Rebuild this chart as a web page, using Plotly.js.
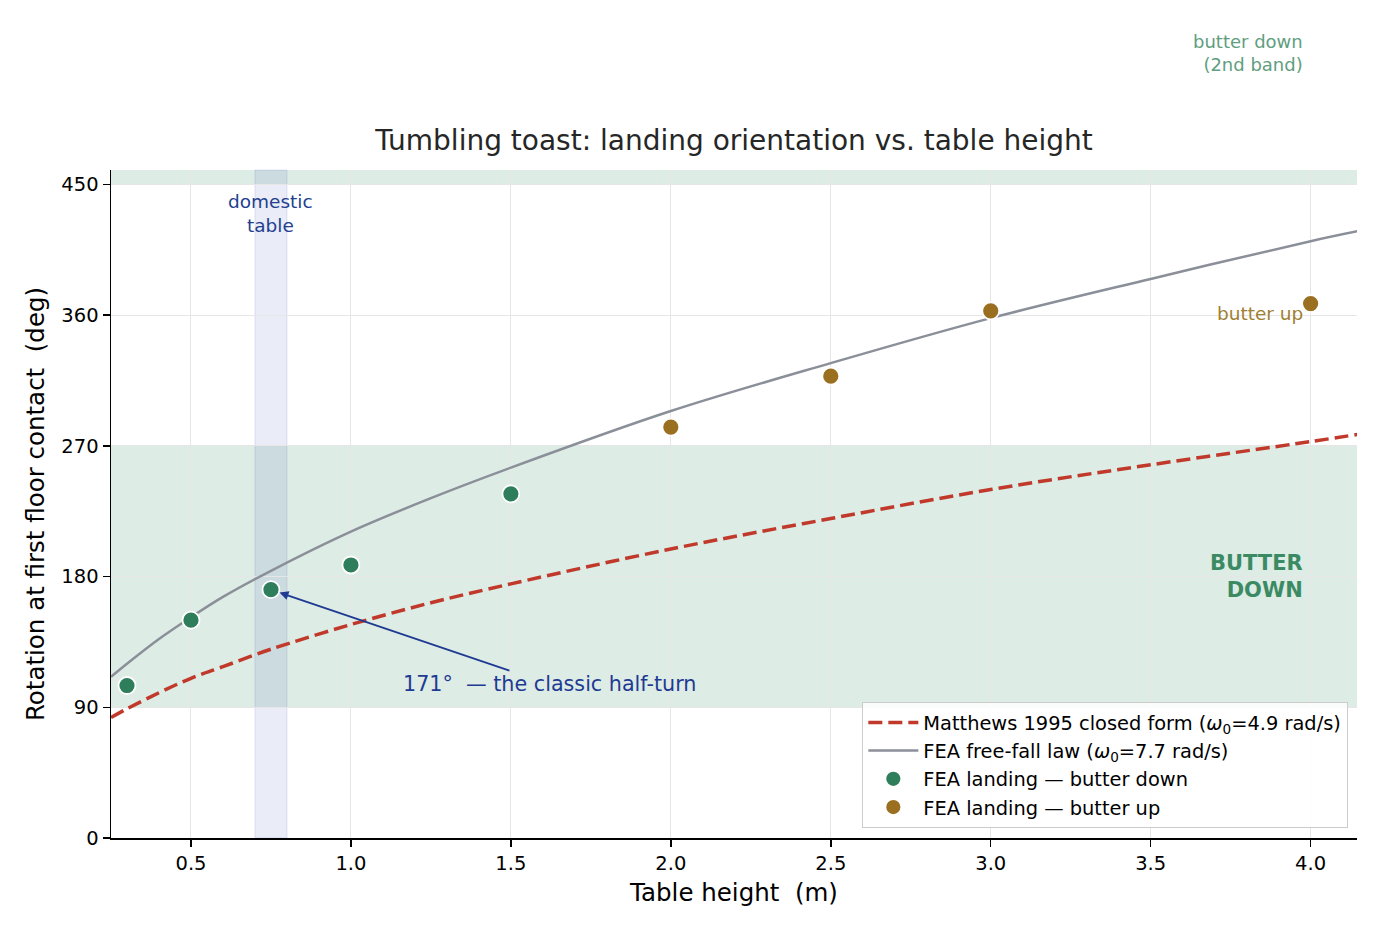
<!DOCTYPE html>
<html>
<head>
<meta charset="utf-8">
<script src="https://cdn.plot.ly/plotly-3.0.1.min.js"></script>
<style>
  body { margin: 0; background: #fff; }
  #plot { width: 1380px; height: 930px; }
</style>
</head>
<body>
<div id="plot"></div>
<script>
// values
var curveHeights = [0.25, 0.3, 0.4, 0.5, 0.6, 0.75, 1.0, 1.25, 1.5, 2.0, 2.5, 3.0, 3.5, 4.0, 4.15];
var matthewsDeg  = [83, 89, 100, 110, 118, 130, 147, 162, 175, 199, 220, 240, 257, 273, 278];
var feaLawDeg    = [111, 120, 137, 152, 166, 184, 211, 234, 255, 294, 327, 358, 385, 411, 418];

var downHeights = [0.3, 0.5, 0.75, 1.0, 1.5];
var downDeg     = [105, 150, 171, 188, 237];
var upHeights   = [2.0, 2.5, 3.0, 4.0];
var upDeg       = [283, 318, 363, 368];

var xTicks      = [0.5, 1.0, 1.5, 2.0, 2.5, 3.0, 3.5, 4.0];
var xTickLabels = ["0.5", "1.0", "1.5", "2.0", "2.5", "3.0", "3.5", "4.0"];
var yTicks      = [0, 90, 180, 270, 360, 450];

var FONT = "DejaVu Sans";

var trace1 = {
  x: curveHeights,
  y: matthewsDeg,
  name: "Matthews 1995 closed form (<i>ω</i><sub>0</sub>=4.9 rad/s)",
  type: "scatter",
  mode: "lines",
  line: {color: "#c0392b", width: 3.5, dash: "14px,6px", shape: "spline"}
};

var trace2 = {
  x: curveHeights,
  y: feaLawDeg,
  name: "FEA free-fall law (<i>ω</i><sub>0</sub>=7.7 rad/s)",
  type: "scatter",
  mode: "lines",
  line: {color: "#8b8f99", width: 2.5, shape: "spline"}
};

var trace3 = {
  x: downHeights,
  y: downDeg,
  name: "FEA landing — butter down",
  type: "scatter",
  mode: "markers",
  marker: {color: "#2e7d5b", size: 17, line: {color: "#ffffff", width: 1.8}}
};

var trace4 = {
  x: upHeights,
  y: upDeg,
  name: "FEA landing — butter up",
  type: "scatter",
  mode: "markers",
  marker: {color: "#9a7020", size: 17, line: {color: "#ffffff", width: 1.8}}
};

var data = [trace1, trace2, trace3, trace4];

var layout = {
  width: 1380,
  height: 930,
  margin: {l: 111, r: 23, t: 170, b: 92},
  paper_bgcolor: "#ffffff",
  plot_bgcolor: "#ffffff",
  font: {family: FONT, color: "#000"},
  showlegend: true,
  title: {
    text: "Tumbling toast: landing orientation vs. table height",
    font: {family: FONT, size: 28, color: "#262626"},
    x: 0.5, xref: "paper",
    y: 1 - 140 / 930, yref: "container", yanchor: "middle"
  },
  xaxis: {
    range: [0.25, 4.145],
    tickvals: xTicks,
    ticktext: xTickLabels,
    ticks: "outside", ticklen: 7, tickwidth: 1.5, tickcolor: "#000",
    tickfont: {family: FONT, size: 19.5, color: "#000"},
    showline: true, linecolor: "#000", linewidth: 1.5,
    showgrid: true, gridcolor: "#e6e6e6", gridwidth: 1,
    zeroline: false,
    title: {text: "Table height  (m)", font: {family: FONT, size: 24.5, color: "#000"}, standoff: 10}
  },
  yaxis: {
    range: [0, 460],
    tickvals: yTicks,
    ticks: "outside", ticklen: 7, tickwidth: 1.5, tickcolor: "#000",
    tickfont: {family: FONT, size: 19.5, color: "#000"},
    showline: true, linecolor: "#000", linewidth: 1.5,
    showgrid: true, gridcolor: "#e6e6e6", gridwidth: 1,
    zeroline: false,
    title: {text: "Rotation at first floor contact  (deg)", font: {family: FONT, size: 24.5, color: "#000"}, standoff: 10}
  },
  legend: {
    x: 0.9928, xanchor: "right",
    y: 0.015, yanchor: "bottom",
    bgcolor: "rgba(255,255,255,0.85)",
    bordercolor: "#cccccc", borderwidth: 1.3,
    itemwidth: 50,
    font: {family: FONT, size: 19.4, color: "#000"}
  },
  shapes: [
    // butter-down bands
    {type: "rect", xref: "paper", yref: "y", x0: 0, x1: 1, y0: 90, y1: 270,
     fillcolor: "rgba(46,139,87,0.16)", line: {width: 0}, layer: "below"},
    {type: "rect", xref: "paper", yref: "y", x0: 0, x1: 1, y0: 450, y1: 630,
     fillcolor: "rgba(46,139,87,0.16)", line: {width: 0}, layer: "below"},
    // domestic table span
    {type: "rect", xref: "x", yref: "paper", x0: 0.7, x1: 0.8, y0: 0, y1: 1,
     fillcolor: "rgba(63,81,181,0.11)", line: {color: "rgba(63,81,181,0.14)", width: 1}, layer: "below"}
  ],
  annotations: [
    {x: 0.75, y: 430, xref: "x", yref: "y", text: "domestic<br>table", showarrow: false,
     font: {family: FONT, size: 18.5, color: "#233f8f"}, align: "center"},
    {x: 3.97, y: 180, xref: "x", yref: "y", text: "<b>BUTTER<br>DOWN</b>", showarrow: false,
     xanchor: "right", align: "right", xshift: 4,
     font: {family: FONT, size: 21, color: "#3b8a64"}},
    {x: 3.97, y: 1.211, xref: "x", yref: "paper", text: "butter down<br>(2nd band)", showarrow: false,
     xanchor: "right", align: "right", xshift: 4,
     font: {family: FONT, size: 18, color: "#5f9e80"}},
    {x: 3.97, y: 361, xref: "x", yref: "y", text: "butter up", showarrow: false,
     xanchor: "right", xshift: 4, font: {family: FONT, size: 18.5, color: "#a08032"}},
    {x: 0.75, y: 171, xref: "x", yref: "y",
     ax: 1.62, ay: 106, axref: "x", ayref: "y",
     text: "171°  — the classic half-turn", showarrow: true,
     arrowhead: 2, arrowsize: 1, arrowwidth: 1.8, arrowcolor: "#1f3a93", standoff: 9,
     font: {family: FONT, size: 20.7, color: "#1f3a93"}}
  ]
};

Plotly.newPlot("plot", data, layout, {displayModeBar: false, staticPlot: true});
</script>
</body>
</html>
